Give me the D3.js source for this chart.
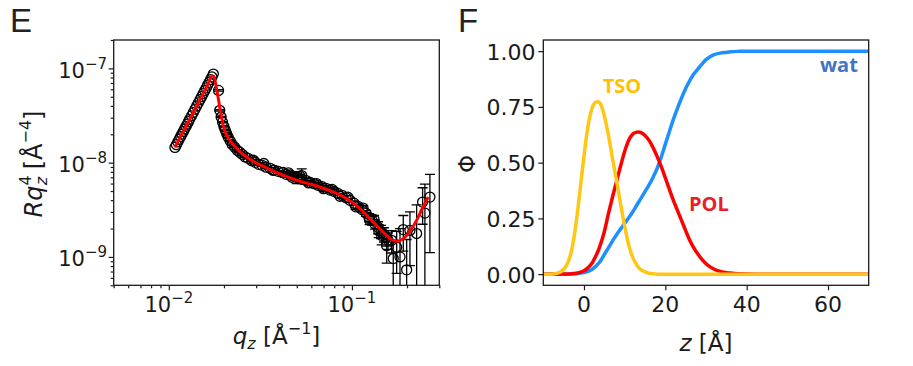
<!DOCTYPE html>
<html>
<head>
<meta charset="utf-8">
<script src="https://cdn.jsdelivr.net/npm/d3@7"></script>
<style>
  body { margin: 0; background: #fff; }
  svg { display: block; font-family: "DejaVu Sans", sans-serif; }
</style>
</head>
<body>
<svg id="fig" width="913" height="366"></svg>
<script>
// ---- panel E : reflectivity, R*q^4 vs q ----
// below the critical edge, then the main decay, then the noisy high-q end
var qData = [0.0108, 0.0110, 0.0112, 0.0114, 0.0116, 0.0118, 0.0120, 0.0122, 0.0124, 0.0126,
  0.0128, 0.0130, 0.0133, 0.0136, 0.0139, 0.0142, 0.0145, 0.0148, 0.0151, 0.0154,
  0.0157, 0.0160, 0.0163, 0.0166, 0.0169, 0.0172, 0.0175,
  0.01869, 0.01897, 0.01930, 0.01965, 0.02000, 0.02033, 0.02070, 0.02110, 0.02165, 0.02220,
  0.02290, 0.02363, 0.02440, 0.02517, 0.02610, 0.02713, 0.02835, 0.02963, 0.03095, 0.03235,
  0.03400, 0.03576, 0.03760, 0.03955, 0.04160, 0.04372, 0.04600, 0.04834, 0.05000, 0.05080,
  0.05320, 0.05344, 0.05620, 0.05910, 0.06210, 0.06530, 0.06870, 0.07220, 0.07590, 0.07980,
  0.08390, 0.08830, 0.09280, 0.09760, 0.10270, 0.10800, 0.11350, 0.11940, 0.12400, 0.12870,
  0.13360, 0.13880, 0.14420, 0.14960, 0.15400, 0.15740,
  0.0290, 0.0330, 0.0370, 0.0420, 0.0450, 0.0470, 0.0520, 0.0580, 0.0640, 0.0700,
  0.0780, 0.0860, 0.0950, 0.1050, 0.1150, 0.1250, 0.1320, 0.1400,
  0.1454, 0.1548, 0.1648, 0.1681, 0.1755, 0.1830, 0.1907, 0.1990, 0.2074, 0.2256,
  0.2432, 0.2503, 0.2666];
var rData = [1.45e-8, 1.55e-8, 1.66e-8, 1.77e-8, 1.89e-8, 2.01e-8, 2.14e-8, 2.28e-8, 2.42e-8, 2.56e-8,
  2.72e-8, 2.88e-8, 3.13e-8, 3.40e-8, 3.69e-8, 3.99e-8, 4.31e-8, 4.65e-8, 5.01e-8, 5.39e-8,
  5.79e-8, 6.21e-8, 6.65e-8, 7.11e-8, 7.60e-8, 8.11e-8, 8.70e-8,
  5.84e-8, 3.59e-8, 3.05e-8, 2.69e-8, 2.42e-8, 2.20e-8, 2.02e-8, 1.86e-8, 1.70e-8, 1.56e-8,
  1.46e-8, 1.35e-8, 1.29e-8, 1.225e-8, 1.15e-8, 1.11e-8, 1.05e-8, 1.007e-8, 9.60e-9, 9.36e-9,
  8.95e-9, 8.70e-9, 8.35e-9, 8.09e-9, 7.85e-9, 7.52e-9, 7.40e-9, 7.16e-9, 7.00e-9, 6.95e-9,
  7.30e-9, 6.65e-9, 6.45e-9, 6.18e-9, 5.98e-9, 5.74e-9, 5.55e-9, 5.34e-9, 5.12e-9, 4.96e-9,
  4.72e-9, 4.50e-9, 4.25e-9, 3.98e-9, 3.72e-9, 3.44e-9, 3.18e-9, 2.90e-9, 2.62e-9, 2.44e-9,
  2.22e-9, 2.06e-9, 1.86e-9, 1.74e-9, 1.60e-9, 1.50e-9,
  1.06e-8, 9.8e-9, 8.3e-9, 7.9e-9, 7.8e-9, 7.0e-9, 7.2e-9, 6.1e-9, 6.0e-9, 5.3e-9,
  5.2e-9, 4.4e-9, 4.3e-9, 3.4e-9, 3.3e-9, 2.45e-9, 2.5e-9, 1.9e-9,
  1.69e-9, 1.31e-9, 1.50e-9, 9.6e-10, 1.27e-9, 1.00e-9, 1.95e-9, 7.3e-10, 1.91e-9, 1.77e-9,
  3.82e-9, 2.92e-9, 4.31e-9];
var eData = [0, 0, 0, 0, 0, 0, 0, 0, 0, 0,
  0, 0, 0, 0, 0, 0, 0, 0, 0, 0,
  0, 0, 0, 0, 0, 0, 0,
  1.0e-9, 6e-10, 5e-10, 4e-10, 3e-10, 3e-10, 3e-10, 2e-10, 2e-10, 2e-10,
  2e-10, 2e-10, 2e-10, 2e-10, 2e-10, 2e-10, 2e-10, 2e-10, 2e-10, 2e-10,
  2e-10, 2e-10, 2e-10, 2e-10, 2e-10, 2e-10, 3e-10, 3e-10, 1.0e-9, 3e-10,
  1.3e-9, 3e-10, 3e-10, 3e-10, 2e-10, 2e-10, 2e-10, 2e-10, 2e-10, 2e-10,
  2e-10, 2e-10, 2e-10, 2e-10, 2e-10, 2e-10, 2e-10, 2e-10, 2.5e-10, 2.5e-10,
  2.5e-10, 3e-10, 3e-10, 3e-10, 3e-10, 3e-10,
  2e-10, 2e-10, 2e-10, 2e-10, 2e-10, 2e-10, 2e-10, 2e-10, 2e-10, 2e-10,
  2e-10, 2e-10, 2e-10, 2e-10, 2e-10, 2.5e-10, 2.5e-10, 3e-10,
  3.5e-10, 4.5e-10, 4.0e-10, 5.5e-10, 6.0e-10, 1.0e-9, 8.0e-10, 8.0e-10, 1.1e-9, 1.8e-9,
  1.6e-9, 3.0e-9, 3.2e-9];

// fitted model curve
var qFit = [0.0108, 0.0120, 0.0135, 0.0150, 0.0162, 0.0172, 0.0176, 0.0183, 0.0191, 0.0199,
  0.0216, 0.0245, 0.0290, 0.0343, 0.0423, 0.0521, 0.0643, 0.0791, 0.0937, 0.1107,
  0.1308, 0.1548, 0.1650, 0.1755, 0.1870, 0.1990, 0.2120, 0.2256, 0.2430, 0.2610];
var rFit = [1.45e-8, 2.15e-8, 3.30e-8, 4.90e-8, 6.50e-8, 8.30e-8, 8.20e-8, 5.86e-8, 3.59e-8, 2.38e-8,
  1.72e-8, 1.30e-8, 1.03e-8, 8.77e-9, 7.33e-9, 6.34e-9, 5.65e-9, 4.88e-9, 4.15e-9, 3.25e-9,
  2.34e-9, 1.69e-9, 1.52e-9, 1.47e-9, 1.52e-9, 1.69e-9, 2.00e-9, 2.44e-9, 3.30e-9, 4.32e-9];

var eXMajor = [0.01, 0.1];
var eXMinor = [0.005, 0.006, 0.007, 0.008, 0.009, 0.02, 0.03, 0.04, 0.05, 0.06, 0.07, 0.08, 0.09, 0.2, 0.3];
var eYMajor = [1e-9, 1e-8, 1e-7];
var eYMinor = [5e-10, 6e-10, 7e-10, 8e-10, 9e-10, 2e-9, 3e-9, 4e-9, 5e-9, 6e-9, 7e-9, 8e-9, 9e-9,
  2e-8, 3e-8, 4e-8, 5e-8, 6e-8, 7e-8, 8e-8, 9e-8, 2e-7];

// ---- panel F : volume fraction profiles ----
var zVals = [-10, -8, -6, -5, -4, -3, -2, -1, 0, 1, 2, 3, 3.5, 4, 5, 6, 7, 8, 9, 10,
  11, 12, 13, 13.5, 14, 15, 16, 17, 18, 19, 20, 21, 22, 23, 24, 25, 26, 27, 28, 29,
  30, 32, 34, 36, 38, 40, 45, 50, 60, 70];
var phiTSO = [0, 0, 0.008, 0.022, 0.05, 0.11, 0.22, 0.37, 0.53, 0.665, 0.745, 0.772, 0.773, 0.765, 0.71, 0.625, 0.52, 0.42, 0.315, 0.215,
  0.13, 0.075, 0.04, 0.028, 0.02, 0.01, 0.004, 0.002, 0, 0, 0, 0, 0, 0, 0, 0, 0, 0, 0, 0,
  0, 0, 0, 0, 0, 0, 0, 0, 0, 0];
var phiPOL = [0, 0, 0, 0.001, 0.001, 0.002, 0.004, 0.008, 0.015, 0.029, 0.05, 0.085, 0.105, 0.13, 0.19, 0.27, 0.345, 0.415, 0.485, 0.55,
  0.6, 0.628, 0.637, 0.638, 0.635, 0.622, 0.6, 0.567, 0.527, 0.482, 0.432, 0.38, 0.33, 0.285, 0.24, 0.195, 0.152, 0.118, 0.09, 0.066,
  0.047, 0.022, 0.01, 0.005, 0.002, 0.001, 0, 0, 0, 0];
var phiWat = [0, 0, 0, 0, 0, 0.001, 0.002, 0.004, 0.007, 0.012, 0.022, 0.037, 0.047, 0.058, 0.088, 0.118, 0.148, 0.177, 0.202, 0.228,
  0.253, 0.28, 0.31, 0.325, 0.34, 0.37, 0.4, 0.435, 0.475, 0.525, 0.583, 0.64, 0.695, 0.745, 0.79, 0.832, 0.868, 0.897, 0.92, 0.942,
  0.962, 0.984, 0.993, 0.997, 0.999, 1, 1, 1, 1, 1];

var fXTicks = [0, 20, 40, 60];
var fYTicks = [0, 0.25, 0.5, 0.75, 1.0];

var svg = d3.select("#fig");
var ink = "#1a1a1a";

function styleAxis(g) {
  g.select(".domain").remove();
  g.selectAll("line").attr("stroke", ink).attr("stroke-width", 1.2);
}

function powLabel(t, v) {
  var ex = Math.round(Math.log10(v));
  t.append("tspan").text("10");
  t.append("tspan").attr("font-size", 15).attr("dy", -9).text("\u2212" + Math.abs(ex));
}

// ================= panel E =================
var pE = {left: 113.7, right: 439.3, top: 40, bottom: 285.3};
var xE = d3.scaleLog().domain([0.005, 0.3]).range([pE.left, pE.right]);
var yE = d3.scaleLog().domain([5e-10, 2e-7]).range([pE.bottom, pE.top]);

svg.append("clipPath").attr("id", "clipE")
  .append("rect")
  .attr("x", pE.left).attr("y", pE.top)
  .attr("width", pE.right - pE.left).attr("height", pE.bottom - pE.top);

var data = qData.map(function(q, i) { return {q: q, r: rData[i], e: eData[i]}; });
var plotE = svg.append("g").attr("clip-path", "url(#clipE)");

var bars = plotE.selectAll("g.err")
  .data(data.filter(function(d) { return d.e > 0; }))
  .enter().append("g").attr("class", "err")
  .attr("stroke", "#000").attr("stroke-width", 1.3);

bars.append("line")
  .attr("x1", function(d) { return xE(d.q); })
  .attr("x2", function(d) { return xE(d.q); })
  .attr("y1", function(d) { return yE(d.r + d.e); })
  .attr("y2", function(d) { return d.r - d.e > 0 ? yE(d.r - d.e) : pE.bottom + 5; });
bars.append("line")
  .attr("x1", function(d) { return xE(d.q) - 5; })
  .attr("x2", function(d) { return xE(d.q) + 5; })
  .attr("y1", function(d) { return yE(d.r + d.e); })
  .attr("y2", function(d) { return yE(d.r + d.e); });
bars.filter(function(d) { return d.r - d.e > 0; }).append("line")
  .attr("x1", function(d) { return xE(d.q) - 5; })
  .attr("x2", function(d) { return xE(d.q) + 5; })
  .attr("y1", function(d) { return yE(d.r - d.e); })
  .attr("y2", function(d) { return yE(d.r - d.e); });

plotE.selectAll("circle.pt")
  .data(data)
  .enter().append("circle")
  .attr("class", "pt")
  .attr("cx", function(d) { return xE(d.q); })
  .attr("cy", function(d) { return yE(d.r); })
  .attr("r", 5)
  .attr("fill", "none")
  .attr("stroke", "#000")
  .attr("stroke-width", 1.3);

var fitLine = d3.line()
  .x(function(d, i) { return xE(qFit[i]); })
  .y(function(d) { return yE(d); })
  .curve(d3.curveMonotoneX);

plotE.append("path")
  .datum(rFit)
  .attr("fill", "none")
  .attr("stroke", "#ff0000")
  .attr("stroke-width", 3)
  .attr("d", fitLine);

// axes E
svg.append("g").attr("transform", "translate(0," + pE.bottom + ")")
  .call(d3.axisBottom(xE).tickValues(eXMajor).tickSize(5).tickFormat("")).call(styleAxis);
svg.append("g").attr("transform", "translate(0," + pE.bottom + ")")
  .call(d3.axisBottom(xE).tickValues(eXMinor).tickSize(3).tickFormat("")).call(styleAxis);
svg.append("g").attr("transform", "translate(" + pE.left + ",0)")
  .call(d3.axisLeft(yE).tickValues(eYMajor).tickSize(5).tickFormat("")).call(styleAxis);
svg.append("g").attr("transform", "translate(" + pE.left + ",0)")
  .call(d3.axisLeft(yE).tickValues(eYMinor).tickSize(3).tickFormat("")).call(styleAxis);

eXMajor.forEach(function(v) {
  var t = svg.append("text").attr("x", xE(v)).attr("y", 311.7)
    .attr("text-anchor", "middle").attr("font-size", 21).attr("fill", ink);
  powLabel(t, v);
});
eYMajor.forEach(function(v) {
  var t = svg.append("text").attr("x", 107).attr("y", yE(v) + 9.5)
    .attr("text-anchor", "end").attr("font-size", 21).attr("fill", ink);
  powLabel(t, v);
});

svg.append("rect")
  .attr("x", pE.left).attr("y", pE.top)
  .attr("width", pE.right - pE.left).attr("height", pE.bottom - pE.top)
  .attr("fill", "none").attr("stroke", ink).attr("stroke-width", 1.3);

var xlE = svg.append("text").attr("x", (pE.left + pE.right) / 2).attr("y", 344)
  .attr("text-anchor", "middle").attr("font-size", 23).attr("fill", ink);
xlE.append("tspan").attr("font-style", "italic").text("q");
xlE.append("tspan").attr("font-style", "italic").attr("font-size", 16).attr("dy", 5).text("z");
xlE.append("tspan").attr("dy", -5).text(" [\u00c5");
xlE.append("tspan").attr("font-size", 16).attr("dy", -10).text("\u22121");
xlE.append("tspan").attr("dy", 10).text("]");

var ylE = svg.append("text").attr("transform", "translate(42,164) rotate(-90)")
  .attr("text-anchor", "middle").attr("font-size", 24).attr("fill", ink);
ylE.append("tspan").attr("font-style", "italic").text("Rq");
ylE.append("tspan").attr("font-size", 16).attr("dy", -11).text("4");
ylE.append("tspan").attr("font-style", "italic").attr("font-size", 16).attr("dx", -10).attr("dy", 16).text("z");
ylE.append("tspan").attr("dy", -5).text(" [\u00c5");
ylE.append("tspan").attr("font-size", 16).attr("dy", -11).text("\u22124");
ylE.append("tspan").attr("dy", 11).text("]");

// ================= panel F =================
var pF = {left: 543.3, right: 868.7, top: 40, bottom: 285.3};
var xF = d3.scaleLinear().domain([-10, 70]).range([pF.left, pF.right]);
var yF = d3.scaleLinear().domain([-0.05, 1.05]).range([pF.bottom, pF.top]);

var profLine = d3.line()
  .x(function(d, i) { return xF(zVals[i]); })
  .y(function(d) { return yF(d); })
  .curve(d3.curveMonotoneX);

var profiles = [
  {vals: phiWat, color: "#1e8fff"},
  {vals: phiPOL, color: "#ff0000"},
  {vals: phiTSO, color: "#ffc713"}
];
svg.append("g").selectAll("path")
  .data(profiles)
  .enter().append("path")
  .attr("fill", "none")
  .attr("stroke", function(d) { return d.color; })
  .attr("stroke-width", 3.5)
  .attr("d", function(d) { return profLine(d.vals); });

svg.append("g").attr("transform", "translate(0," + pF.bottom + ")")
  .call(d3.axisBottom(xF).tickValues(fXTicks).tickSize(5).tickFormat("")).call(styleAxis);
svg.append("g").attr("transform", "translate(" + pF.left + ",0)")
  .call(d3.axisLeft(yF).tickValues(fYTicks).tickSize(5).tickFormat("")).call(styleAxis);

fXTicks.forEach(function(v) {
  svg.append("text").attr("x", xF(v)).attr("y", 311.7)
    .attr("text-anchor", "middle").attr("font-size", 22).attr("fill", ink)
    .text(v);
});
fYTicks.forEach(function(v) {
  svg.append("text").attr("x", 535.5).attr("y", yF(v) + 8.5)
    .attr("text-anchor", "end").attr("font-size", 22).attr("fill", ink)
    .text(d3.format(".2f")(v));
});

svg.append("rect")
  .attr("x", pF.left).attr("y", pF.top)
  .attr("width", pF.right - pF.left).attr("height", pF.bottom - pF.top)
  .attr("fill", "none").attr("stroke", ink).attr("stroke-width", 1.3);

var xlF = svg.append("text").attr("x", (pF.left + pF.right) / 2).attr("y", 351)
  .attr("text-anchor", "middle").attr("font-size", 23).attr("fill", ink);
xlF.append("tspan").attr("font-style", "italic").text("z");
xlF.append("tspan").text(" [\u00c5]");

svg.append("text").attr("transform", "translate(475,164) rotate(-90)")
  .attr("text-anchor", "middle").attr("font-size", 23).attr("fill", ink)
  .text("\u03a6");

// curve names
var names = [
  {label: "TSO", x: 602.7, y: 92.7, color: "#ffc000"},
  {label: "wat", x: 820, y: 71.7, color: "#4472c4"},
  {label: "POL", x: 689, y: 210.7, color: "#e8202a"}
];
svg.selectAll("text.name")
  .data(names)
  .enter().append("text")
  .attr("class", "name")
  .attr("x", function(d) { return d.x; })
  .attr("y", function(d) { return d.y; })
  .attr("font-family", "'Open Sans', sans-serif")
  .attr("font-weight", "bold")
  .attr("font-size", 20)
  .attr("fill", function(d) { return d.color; })
  .text(function(d) { return d.label; });

// panel letters
svg.append("text").attr("x", 10).attr("y", 31.5).attr("font-family", "'Liberation Sans', sans-serif")
  .attr("font-size", 33).attr("fill", "#222").text("E");
svg.append("text").attr("x", 458).attr("y", 31.5).attr("font-family", "'Liberation Sans', sans-serif")
  .attr("font-size", 33).attr("fill", "#222").text("F");
</script>
</body>
</html>
